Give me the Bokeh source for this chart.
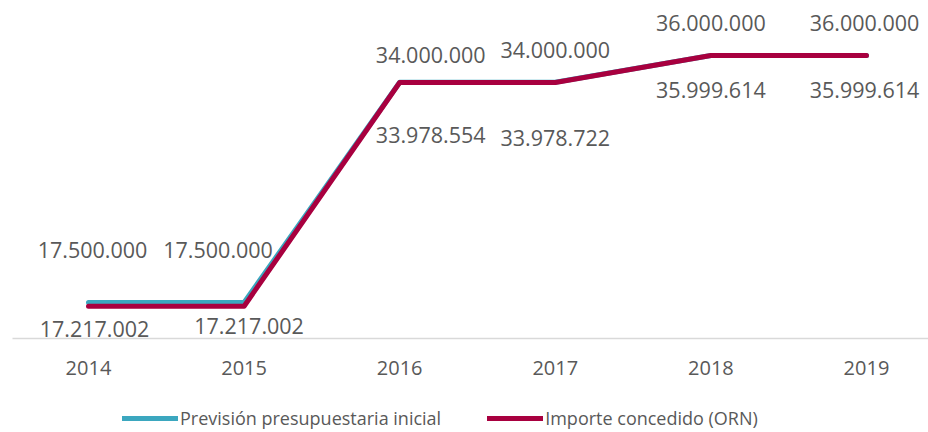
from bokeh.plotting import figure
from bokeh.layouts import column
from bokeh.models import ColumnDataSource, Range1d, FixedTicker, Legend, LegendItem
from bokeh.core.properties import value
from bokeh.embed import file_html
from bokeh.resources import INLINE

years = ["2014", "2015", "2016", "2017", "2018", "2019"]
prevision = [17500000, 17500000, 34000000, 34000000, 36000000, 36000000]
importe = [17217002, 17217002, 33978554, 33978722, 35999614, 35999614]
series_names = ["Previsión presupuestaria inicial", "Importe concedido (ORN)"]

TEAL = "#3BA7BF"
CRIMSON = "#A8003F"
GREY = "#595959"
FONT = "Open Sans"

# label placement offsets (screen px)
prev_dx = [4, -26, 31, 0, 0, -2]
prev_dy = [-52, -52, -27, -32, -32, -32]
imp_dx = [6, 5, 31, 0, 0, -2]
imp_dy = [23, 20, 53, 56, 35, 35]


def fmt(v):
    return f"{v:,}".replace(",", ".")


xs = list(range(len(years)))
src_p = ColumnDataSource(dict(x=xs, y=prevision, lab=[fmt(v) for v in prevision], dx=prev_dx, dy=prev_dy))
src_i = ColumnDataSource(dict(x=xs, y=importe, lab=[fmt(v) for v in importe], dx=imp_dx, dy=imp_dy))
sources = [src_p, src_i]

p = figure(width=928, height=392, output_backend="svg", toolbar_location=None,
           x_range=Range1d(-0.4884, 5.3985), y_range=Range1d(14.80e6, 39.52e6),
           y_axis_location=None, min_border_left=12, min_border_right=0,
           min_border_top=8, min_border_bottom=54)
p.outline_line_color = None
p.xgrid.visible = False
p.ygrid.visible = False
p.background_fill_color = "white"
p.border_fill_color = "white"

line_styles = [dict(line_color=TEAL, line_width=5, line_cap="round", line_join="round"),
               dict(line_color=CRIMSON, line_width=5, line_cap="round", line_join="round")]

for src, style in zip(sources, line_styles):
    p.line("x", "y", source=src, **style)

for src in sources:
    p.text("x", "y", text="lab", source=src, x_offset="dx", y_offset="dy",
           text_font=value(FONT), text_font_size="21.5px", text_color=GREY,
           text_align="center", text_baseline="middle")

ax = p.xaxis[0]
ax.ticker = FixedTicker(ticks=xs)
ax.major_label_overrides = {i: y for i, y in enumerate(years)}
ax.axis_line_color = "#D9D9D9"
ax.axis_line_width = 1.5
ax.major_tick_line_color = None
ax.minor_tick_line_color = None
ax.major_label_text_font = FONT
ax.major_label_text_font_size = "20px"
ax.major_label_text_color = GREY
ax.major_label_standoff = 16

# legend strip (same series, out of its visible range; only the legend shows)
lg = figure(width=928, height=40, output_backend="svg", toolbar_location=None,
            x_range=Range1d(0, 1), y_range=Range1d(0, 1),
            x_axis_location=None, y_axis_location=None,
            min_border_left=0, min_border_right=0, min_border_top=0, min_border_bottom=0)
lg.outline_line_color = None
lg.xgrid.visible = False
lg.ygrid.visible = False
lg.background_fill_color = "white"
lg.border_fill_color = "white"

items = []
for name, src, style in zip(series_names, sources, line_styles):
    r = lg.line("x", "y", source=src, **style)
    items.append(LegendItem(label=name, renderers=[r]))

legend = Legend(items=items, orientation="horizontal", location=(110, 2),
                glyph_width=56, glyph_height=20, label_standoff=2, spacing=46,
                padding=0, margin=0, border_line_color=None, background_fill_alpha=0,
                label_text_font=FONT, label_text_font_size="18px", label_text_color=GREY)
lg.add_layout(legend, "center")

layout = column(p, lg, spacing=0)
open("out.html", "w").write(file_html(layout, INLINE))
